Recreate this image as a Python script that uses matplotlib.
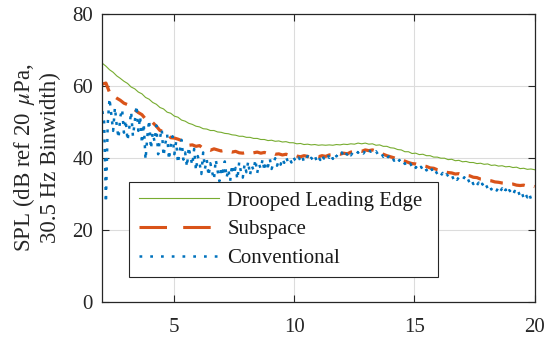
import numpy as np
import matplotlib
matplotlib.use("Agg")
import matplotlib.pyplot as plt
from matplotlib.lines import Line2D

plt.rcParams['font.family'] = ['Liberation Serif', 'DejaVu Serif']
plt.rcParams['mathtext.fontset'] = 'stix'

# Narrowband spectra, 2-20 kHz
freq_khz = np.linspace(2.0, 20.0, 121)
freq_fine_khz = np.linspace(2.0, 20.0, 241)

drooped_le = [
    66.3, 65.5, 64.5, 63.8, 62.8, 62.1, 61.3, 60.7, 59.7, 59.2,
    58.3, 57.8, 56.8, 56.3, 55.4, 54.9, 54.0, 53.6, 52.7, 52.4,
    51.6, 51.3, 50.5, 50.2, 49.6, 49.3, 48.8, 48.6, 48.1, 48.0,
    47.6, 47.6, 47.2, 47.1, 46.8, 46.7, 46.4, 46.3, 46.0, 46.0,
    45.7, 45.7, 45.4, 45.4, 45.1, 45.1, 44.8, 44.9, 44.6, 44.7,
    44.4, 44.5, 44.2, 44.2, 43.9, 44.0, 43.7, 43.8, 43.6, 43.7,
    43.5, 43.6, 43.5, 43.6, 43.5, 43.7, 43.6, 43.8, 43.7, 43.9,
    43.8, 44.1, 43.9, 44.1, 43.8, 43.9, 43.5, 43.6, 43.2, 43.2,
    42.8, 42.7, 42.3, 42.2, 41.7, 41.7, 41.2, 41.3, 40.9, 41.0,
    40.6, 40.6, 40.2, 40.2, 39.9, 39.9, 39.5, 39.6, 39.2, 39.3,
    38.9, 39.0, 38.7, 38.7, 38.4, 38.5, 38.2, 38.3, 37.9, 38.0,
    37.7, 37.8, 37.5, 37.6, 37.3, 37.4, 37.0, 37.1, 36.8, 36.9,
    36.7,
]

subspace = [
    60.5, 60.8, 58.2, 57.3, 56.6, 56.0, 55.2, 54.8, 54.0, 53.4,
    52.6, 52.0, 50.8, 50.3, 49.8, 48.8, 47.6, 47.4, 46.8, 45.6,
    45.5, 45.2, 44.8, 44.0, 43.5, 43.6, 43.2, 43.4, 42.6, 42.4,
    42.1, 42.5, 42.2, 41.9, 42.1, 41.8, 41.6, 41.8, 41.4, 41.3,
    41.5, 41.2, 41.4, 41.6, 41.3, 41.5, 41.2, 41.4, 41.0, 41.1,
    40.8, 41.0, 40.7, 40.9, 40.5, 40.3, 40.6, 40.4, 40.2, 40.5,
    40.3, 40.6, 40.4, 40.8, 40.9, 41.2, 41.0, 41.3, 41.1, 41.6,
    41.7, 42.0, 41.8, 42.2, 42.0, 42.2, 41.9, 41.5, 41.0, 40.6,
    40.3, 40.0, 39.6, 39.3, 39.1, 38.7, 38.4, 38.3, 38.0, 37.8,
    37.6, 37.2, 37.1, 36.7, 36.5, 36.1, 35.9, 35.8, 35.5, 35.6,
    35.3, 35.1, 35.0, 34.6, 34.5, 34.1, 34.0, 33.7, 33.6, 33.3,
    33.2, 33.0, 32.9, 32.6, 32.7, 32.4, 32.3, 32.4, 32.1, 32.3,
    32.0,
]

conventional = [
    53.0, 50.0, 27.6, 49.5, 56.5, 52.0, 47.5, 54.0, 49.0, 45.5,
    51.5, 53.5, 47.0, 50.5, 44.8, 48.5, 52.8, 46.0, 50.0, 54.5,
    47.5, 51.5, 44.0, 49.5, 39.5, 46.0, 50.5, 42.5, 47.0, 44.5,
    49.0, 41.0, 45.5, 48.0, 40.5, 44.0, 46.5, 39.5, 43.5, 46.0,
    41.0, 44.5, 38.5, 42.0, 45.0, 39.5, 41.5, 37.5, 43.0, 40.0,
    38.0, 42.5, 36.5, 40.5, 38.5, 35.5, 41.5, 37.0, 39.5, 35.0,
    38.5, 36.0, 34.0, 39.5, 36.5, 33.5, 37.5, 35.0, 39.0, 34.5,
    36.8, 33.6, 38.0, 35.5, 37.2, 34.0, 38.8, 36.0, 34.5, 38.2,
    36.0, 39.0, 35.2, 37.8, 36.5, 39.5, 35.8, 38.2, 37.0, 39.6,
    36.4, 38.8, 37.6, 39.8, 36.9, 38.5, 39.9, 37.8, 39.2, 38.1,
    39.8, 38.6, 40.2, 39.0, 39.9, 38.7, 40.3, 39.4, 38.9, 40.1,
    39.3, 40.4, 38.8, 39.7, 40.5, 39.2, 40.0, 39.5, 40.6, 39.1,
    40.2, 39.4, 40.8, 39.8, 40.5, 41.1, 40.0, 40.9, 39.7, 41.2,
    40.4, 41.0, 40.6, 41.5, 40.3, 41.3, 40.9, 41.7, 40.7, 41.4,
    41.1, 41.9, 41.4, 42.1, 41.6, 41.2, 42.0, 41.5, 42.2, 41.7,
    41.9, 41.3, 41.8, 41.0, 40.6, 41.2, 40.3, 40.8, 39.9, 40.4,
    39.6, 40.1, 39.2, 39.7, 38.8, 39.4, 38.5, 39.0, 38.3, 38.7,
    37.9, 38.4, 37.5, 38.1, 37.2, 37.9, 37.0, 37.5, 36.6, 37.3,
    36.5, 37.1, 36.2, 36.8, 35.7, 36.4, 35.5, 36.0, 35.1, 35.8,
    34.8, 35.4, 35.0, 34.5, 35.2, 34.1, 34.8, 33.9, 34.6, 34.2,
    33.8, 34.6, 33.5, 34.1, 33.0, 33.8, 32.7, 33.4, 32.4, 33.1,
    32.0, 32.8, 31.7, 32.5, 31.5, 32.3, 31.2, 32.0, 31.6, 30.9,
    31.8, 30.7, 31.5, 30.3, 31.2, 30.0, 31.0, 30.4, 29.6, 30.8,
    29.9, 30.6, 29.3, 30.2, 28.8, 29.9, 29.0, 30.1, 28.6, 29.5,
    29.2,
]

labels = ["Drooped Leading Edge", "Subspace", "Conventional"]
x_ticks = [5, 10, 15, 20]
y_ticks = [0, 20, 40, 60, 80]

green = "#77AC30"
orange = "#D95319"
blue = "#0072BD"

fig = plt.figure(figsize=(5.46, 3.42), dpi=100)
ax = fig.add_axes([0.1874, 0.118, 0.7916, 0.841])

ax.plot(freq_khz, drooped_le, color=green, lw=0.8)
ax.plot(freq_khz, subspace, color=orange, lw=2.3, dashes=(4, 3),
        dash_capstyle='butt')
ax.plot(freq_fine_khz, conventional, color=blue, lw=1.8, dashes=(1.2, 2.6),
        dash_capstyle='butt')

ax.set_xlim(2, 20)
ax.set_ylim(0, 80)
ax.set_xticks(x_ticks)
ax.set_yticks(y_ticks)
ax.grid(True, color="#dcdcdc", lw=0.8)
ax.set_axisbelow(True)
ax.tick_params(direction='in', top=True, right=True, length=5, width=0.8,
               labelsize=15, colors="#262626")
ax.tick_params(axis='x', pad=11.5)
ax.tick_params(axis='y', pad=6.7)
for s in ax.spines.values():
    s.set_linewidth(0.9)
    s.set_color("#262626")

ax.set_ylabel("SPL (dB ref 20 $\\,\\mu$Pa,\n30.5 Hz Binwidth)", fontsize=16.5,
              linespacing=1.2, labelpad=8, color="#262626")

# legend keys
handles = [
    Line2D([], [], color=green, lw=0.8),
    Line2D([], [], color=orange, lw=2.2, dashes=(9, 5.3), dash_capstyle='butt'),
    Line2D([], [], color=blue, lw=1.8, dashes=(1.1, 3.2), dash_capstyle='butt'),
]
leg = ax.legend(handles, labels, loc='upper left',
                bbox_to_anchor=(0.0625, 0.417, 0.7145, 0.0),
                mode='expand', fontsize=15, fancybox=False, framealpha=1,
                edgecolor='#262626', handlelength=3.85, handletextpad=0.41,
                borderaxespad=0, labelspacing=0.435, borderpad=0.45)
leg.get_frame().set_linewidth(0.8)
for t in leg.get_texts():
    t.set_color("#1a1a1a")

fig.savefig("out.png", dpi=100)
